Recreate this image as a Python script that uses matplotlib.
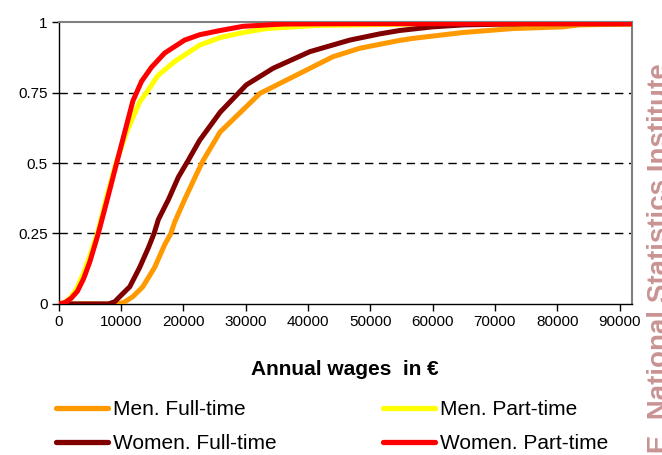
import matplotlib.pyplot as plt
from matplotlib.lines import Line2D

plt.rcParams['font.family'] = ['Liberation Sans', 'DejaVu Sans']

# Data (cumulative share of workers by annual wage)
men_ft_x = [0, 9500, 10500, 11900, 13500, 15400, 17000, 18000, 18600, 20200, 22100, 23200,
            25900, 32300, 38700, 44000, 48300, 54700, 56800, 64900, 72900, 80900, 83600, 91600, 92000]
men_ft_y = [0, 0, 0.006, 0.026, 0.061, 0.13, 0.21, 0.25, 0.29, 0.37, 0.46, 0.51,
            0.61, 0.747, 0.818, 0.877, 0.907, 0.935, 0.942, 0.963, 0.977, 0.983, 0.99, 0.993, 0.994]

men_pt_x = [0, 1000, 2000, 3000, 4000, 5000, 6200, 7700, 9200, 10900, 13000, 14100, 15900,
            18600, 22600, 25900, 29600, 33400, 41400, 54700, 60000, 92000]
men_pt_y = [0, 0.006, 0.025, 0.06, 0.11, 0.17, 0.25, 0.38, 0.5, 0.61, 0.717, 0.75, 0.81,
            0.86, 0.918, 0.945, 0.963, 0.977, 0.988, 0.992, 0.994, 0.994]

women_ft_x = [0, 8000, 9000, 9800, 11400, 13000, 14400, 15300, 16000, 17600, 19200, 20800,
              22600, 25900, 30100, 34400, 40300, 46700, 51500, 54700, 60000, 65000, 75000, 92000]
women_ft_y = [0, 0, 0.008, 0.026, 0.061, 0.13, 0.2, 0.25, 0.3, 0.37, 0.45, 0.51,
              0.58, 0.68, 0.777, 0.836, 0.895, 0.936, 0.958, 0.97, 0.983, 0.99, 0.994, 0.994]

women_pt_x = [0, 1000, 2000, 3000, 4000, 5000, 6350, 7900, 9300, 10600, 11900, 13300, 14900,
              17000, 20200, 22600, 25900, 29600, 36000, 45000, 92000]
women_pt_y = [0, 0.005, 0.02, 0.045, 0.09, 0.15, 0.25, 0.38, 0.5, 0.61, 0.72, 0.79, 0.84,
              0.89, 0.936, 0.955, 0.97, 0.985, 0.993, 0.994, 0.994]

labels = ['Men. Full-time', 'Men. Part-time', 'Women. Full-time', 'Women. Part-time']
colors = ['#FF9900', '#FFFF00', '#800000', '#FF0000']
xticks = [0, 10000, 20000, 30000, 40000, 50000, 60000, 70000, 80000, 90000]
yticks = [0, 0.25, 0.5, 0.75, 1]
ytick_labels = ['0', '0.25', '0.5', '0.75', '1']

fig = plt.figure(figsize=(6.62, 4.55), dpi=100)
ax = fig.add_axes([0.0887, 0.332, 0.866, 0.6195])

for y in [0.25, 0.5, 0.75]:
    ax.axhline(y, color='black', linewidth=1, linestyle=(0, (6, 4)), zorder=1)

series = [(men_ft_x, men_ft_y), (men_pt_x, men_pt_y), (women_ft_x, women_ft_y), (women_pt_x, women_pt_y)]
handles = []
for (xs, ys), lab, c in zip(series, labels, colors):
    ax.plot(xs, ys, color=c, linewidth=3.6, solid_joinstyle='round', zorder=3)
    handles.append(Line2D([], [], color=c, linewidth=3.8, solid_capstyle='round', label=lab))

ax.set_xlim(0, 92000)
ax.set_ylim(0, 1)
ax.set_xticks(xticks)
ax.set_xticklabels([str(v) for v in xticks], fontsize=11)
ax.set_yticks(yticks)
ax.set_yticklabels(ytick_labels, fontsize=11)
ax.tick_params(direction='out', length=5, width=1, color='black', pad=3)

ax.spines['top'].set_color('#808080')
ax.spines['right'].set_color('#808080')
ax.spines['top'].set_linewidth(1.5)
ax.spines['right'].set_linewidth(1.5)
ax.spines['left'].set_linewidth(1)
ax.spines['bottom'].set_linewidth(1)

ax.set_xlabel('Annual wages  in €', fontsize=15, fontweight='bold', labelpad=22)

# legend: row 1 men, row 2 women
order = [0, 2, 1, 3]
fig.legend([handles[i] for i in order], [labels[i] for i in order], ncol=2,
           loc='upper left', bbox_to_anchor=(0.0846, 0.121), frameon=False,
           fontsize=15, handlelength=2.5, handletextpad=0.25, columnspacing=5.1,
           labelspacing=0.72, borderaxespad=0, borderpad=0)

fig.text(0.978, 0.86, 'INE. National Statistics Institute', rotation=90, ha='left', va='top',
         fontsize=20, fontweight='bold', color='#C99393')

fig.savefig('out.png', dpi=100)
